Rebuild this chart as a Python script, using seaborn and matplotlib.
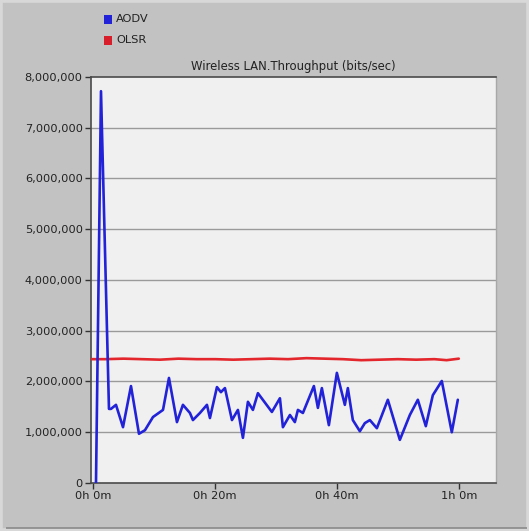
import matplotlib
matplotlib.use("Agg")
import matplotlib.pyplot as plt
import matplotlib.patches as mpatches
import matplotlib.ticker as mticker
import pandas as pd
import seaborn as sns

# Simulation time (minutes) and throughput samples (bits/sec)
aodv_time = [0.49, 1.31, 2.62, 2.95, 3.77, 4.92, 6.23, 7.54, 8.52, 9.84,
             11.48, 12.46, 13.77, 14.75, 15.90, 16.39, 17.54, 18.69, 19.18,
             20.33, 20.98, 21.64, 22.79, 23.77, 24.59, 25.41, 26.23, 27.05,
             29.34, 30.66, 31.15, 32.30, 33.11, 33.61, 34.43, 36.23, 36.89,
             37.54, 38.69, 40.00, 41.31, 41.80, 42.62, 43.77, 44.59, 45.41,
             46.56, 48.36, 50.33, 51.97, 53.28, 54.59, 55.74, 57.21, 58.85,
             59.84]
aodv_bps = [0, 7720000, 1460000, 1460000, 1540000, 1100000, 1910000, 970000,
            1040000, 1300000, 1440000, 2070000, 1200000, 1540000, 1380000,
            1240000, 1380000, 1540000, 1280000, 1890000, 1790000, 1870000,
            1240000, 1440000, 890000, 1600000, 1440000, 1770000, 1400000,
            1670000, 1100000, 1340000, 1200000, 1440000, 1380000, 1910000,
            1480000, 1870000, 1140000, 2170000, 1540000, 1870000, 1240000,
            1020000, 1180000, 1240000, 1080000, 1640000, 850000, 1340000,
            1640000, 1120000, 1730000, 2010000, 1000000, 1640000]

olsr_time = [-0.3, 2.0, 5.0, 8.0, 11.0, 14.0, 17.0, 20.0, 23.0, 26.0, 29.0,
             32.0, 35.0, 38.0, 41.0, 44.0, 47.0, 50.0, 53.0, 56.0, 58.0, 60.0]
olsr_bps = [2440000, 2440000, 2450000, 2440000, 2430000, 2450000, 2440000,
            2440000, 2430000, 2440000, 2450000, 2440000, 2460000, 2450000,
            2440000, 2420000, 2430000, 2440000, 2430000, 2440000, 2420000,
            2450000]

x_ticks = [0, 20, 40, 60]
x_tick_labels = ["0h 0m", "0h 20m", "0h 40m", "1h 0m"]
y_ticks = [0, 1000000, 2000000, 3000000, 4000000, 5000000, 6000000, 7000000, 8000000]

sns.set_theme(style="white")
plt.rcParams["font.family"] = ["DejaVu Sans"]

panel_gray = "#c2c2c2"
fig = plt.figure(figsize=(5.29, 5.31), dpi=100, facecolor=panel_gray)

# bevelled frame around the panel
fig.patches.append(mpatches.Rectangle((0, 0), 1, 1, transform=fig.transFigure,
                                      facecolor="none", edgecolor="#d8d8d8",
                                      linewidth=4, zorder=0))
fig.patches.append(mpatches.Rectangle((0.012, 0.006), 0.985, 0.0, transform=fig.transFigure,
                                      facecolor="none", edgecolor="#8a8a8a",
                                      linewidth=1.2, zorder=1))

ax = fig.add_axes([0.172, 0.0904, 0.7656, 0.7646])
ax.set_facecolor("#f0f0f0")

aodv_df = pd.DataFrame({"t": aodv_time, "v": aodv_bps})
olsr_df = pd.DataFrame({"t": olsr_time, "v": olsr_bps})

sns.lineplot(data=olsr_df, x="t", y="v", ax=ax, color="#e3262c", linewidth=1.9,
             estimator=None, sort=False, zorder=3)
sns.lineplot(data=aodv_df, x="t", y="v", ax=ax, color="#2222d8", linewidth=1.9,
             estimator=None, sort=False, zorder=4)

ax.set_xlim(-0.33, 66.1)
ax.set_ylim(0, 8000000)
ax.set_xticks(x_ticks)
ax.set_xticklabels(x_tick_labels)
ax.set_yticks(y_ticks)
ax.yaxis.set_major_formatter(mticker.FuncFormatter(lambda v, p: f"{int(v):,}"))
ax.set_xlabel("")
ax.set_ylabel("")

for y in y_ticks[1:-1]:
    ax.axhline(y, color="#9a9a9a", linewidth=1.0, zorder=1)

ax.tick_params(axis="both", which="major", direction="out", length=4, width=1,
               color="#333333", labelsize=8.2, labelcolor="#222222", pad=2,
               bottom=True, left=True)
for side in ("left", "bottom", "top"):
    ax.spines[side].set_color("#4a4a4a")
    ax.spines[side].set_linewidth(1.2)
ax.spines["right"].set_color("#a8a8a8")
ax.spines["right"].set_linewidth(1.0)

ax.set_title("Wireless LAN.Throughput (bits/sec)", fontsize=8.4, color="#222222", pad=5)

# legend entries above the plot
for ypix, label, col in ((19, "AODV", "#2222d8"), (40, "OLSR", "#d81e2a")):
    yf = 1 - ypix / 531
    fig.patches.append(mpatches.Rectangle((104 / 529, yf - 4.5 / 531), 8 / 529, 9 / 531,
                                          transform=fig.transFigure, facecolor=col,
                                          edgecolor="none"))
    fig.text(116 / 529, yf, label, fontsize=8.2, color="#222222", va="center", ha="left")

fig.savefig("out.png", dpi=100, facecolor=fig.get_facecolor())
